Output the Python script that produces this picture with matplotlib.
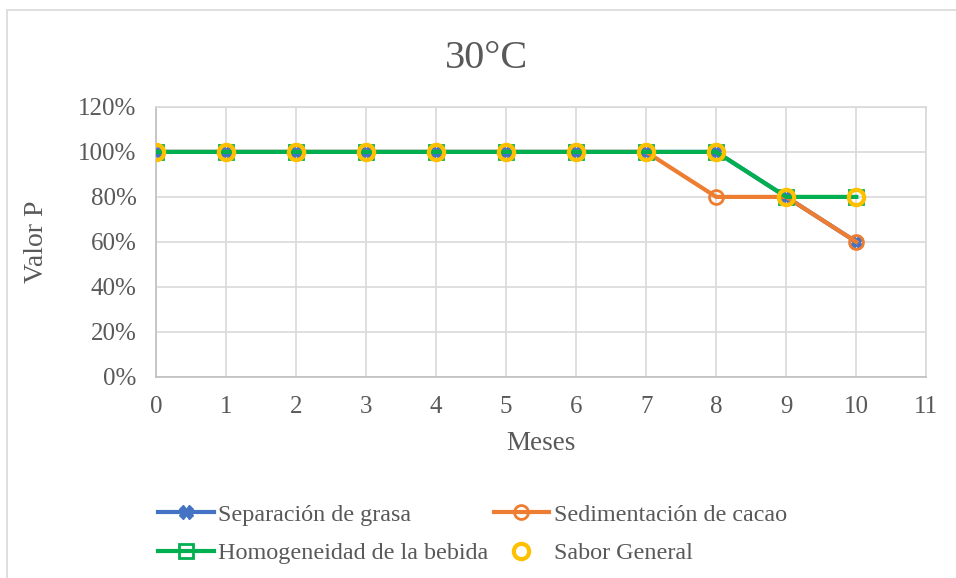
import matplotlib.pyplot as plt
from matplotlib.patches import Rectangle
from matplotlib.ticker import PercentFormatter

meses = [0, 1, 2, 3, 4, 5, 6, 7, 8, 9, 10]
separacion_grasa = [1.0, 1.0, 1.0, 1.0, 1.0, 1.0, 1.0, 1.0, 1.0, 0.8, 0.6]
sedimentacion_cacao = [1.0, 1.0, 1.0, 1.0, 1.0, 1.0, 1.0, 1.0, 0.8, 0.8, 0.6]
homogeneidad = [1.0, 1.0, 1.0, 1.0, 1.0, 1.0, 1.0, 1.0, 1.0, 0.8, 0.8]
sabor_general = [1.0, 1.0, 1.0, 1.0, 1.0, 1.0, 1.0, 1.0, 1.0, 0.8, 0.8]

plt.rcParams["font.family"] = ["Liberation Serif", "DejaVu Serif"]
text_color = "#595959"
grid_color = "#D9D9D9"

fig = plt.figure(figsize=(9.56, 5.78), dpi=100)
ax = fig.add_axes([0.163, 0.348, 0.806, 0.467])

# chart area frame
fig.patches.append(Rectangle((7 / 956, -0.01), 1.0, 1 - 10 / 578 + 0.01,
                             transform=fig.transFigure, fill=False,
                             edgecolor=grid_color, linewidth=1.2))

l1, = ax.plot(meses, separacion_grasa, color="#4472C4", lw=3, marker="X",
              ms=10, mec="#4472C4", mfc="#4472C4", label="Separación de grasa", zorder=3)
l2, = ax.plot(meses, sedimentacion_cacao, color="#ED7D31", lw=3, marker="o",
              ms=10, mfc="none", mec="#ED7D31", mew=2, label="Sedimentación de cacao", zorder=4)
l3, = ax.plot(meses, homogeneidad, color="#00B050", lw=3, marker="s",
              ms=10, mfc="none", mec="#00B050", mew=2, label="Homogeneidad de la bebida", zorder=5)
l4, = ax.plot(meses, sabor_general, linestyle="none", marker="o",
              ms=11, mfc="none", mec="#FFC000", mew=3, label="Sabor General", zorder=6)

ax.set_xlim(0, 11)
ax.set_ylim(0, 1.2)
ax.set_xticks(range(0, 12))
ax.set_yticks([0, 0.2, 0.4, 0.6, 0.8, 1.0, 1.2])
ax.yaxis.set_major_formatter(PercentFormatter(1.0, decimals=0))
ax.grid(True, color=grid_color, lw=1.2)
ax.set_axisbelow(True)
for s in ax.spines.values():
    s.set_color(grid_color)
    s.set_linewidth(1.2)
ax.spines["left"].set_color("#BFBFBF")
ax.spines["bottom"].set_color("#BFBFBF")
ax.tick_params(length=0, labelsize=18, labelcolor=text_color, pad=14)

fig.suptitle("30°C", x=487 / 956, y=1 - 58 / 578, va="center",
             fontsize=29, color=text_color)
ax.set_xlabel("Meses", fontsize=19.5, color=text_color)
ax.xaxis.set_label_coords(0.5, -(444 - 377) / 270, transform=ax.transAxes)
ax.xaxis.label.set_va("center")
ax.set_ylabel("Valor P", fontsize=20, color=text_color)
ax.yaxis.set_label_coords(-(156 - 37) / 770, 0.5, transform=ax.transAxes)
ax.yaxis.label.set_va("center")

# columns filled first, so order gives row 1: l1, l2 and row 2: l3, l4
fig.legend([l1, l3, l2, l4],
           [l1.get_label(), l3.get_label(), l2.get_label(), l4.get_label()],
           loc="center left", bbox_to_anchor=(158 / 956, 1 - 534 / 578),
           ncol=2, frameon=False, fontsize=17.4, handlelength=2.3,
           handletextpad=0.2, columnspacing=0.2, labelspacing=0.68,
           labelcolor=text_color, borderaxespad=0, borderpad=0)

fig.savefig("out.png", dpi=100)
